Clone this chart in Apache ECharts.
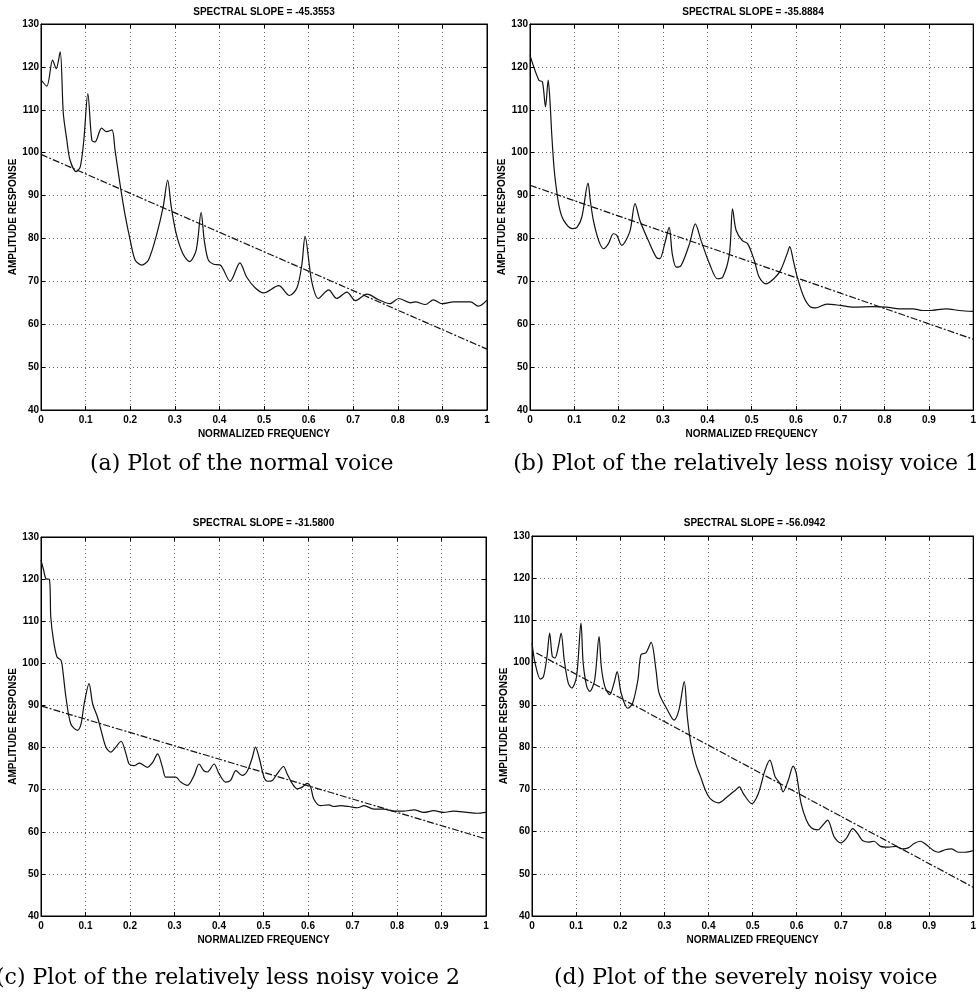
<!DOCTYPE html>
<html>
<head>
<meta charset="utf-8">
<script src="https://cdn.jsdelivr.net/npm/echarts@6/dist/echarts.min.js"></script>
<style>
html,body{margin:0;padding:0;background:#fff;}
#chart{width:979px;height:996px;}
</style>
</head>
<body>
<div id="chart"></div>
<script>
// ---- Data ----
const titles = ['SPECTRAL SLOPE = -45.3553', 'SPECTRAL SLOPE = -35.8884', 'SPECTRAL SLOPE = -31.5800', 'SPECTRAL SLOPE = -56.0942'];
const captions = ['(a) Plot of the normal voice', '(b) Plot of the relatively less noisy voice 1', '(c) Plot of the relatively less noisy voice 2', '(d) Plot of the severely noisy voice'];
const xTicks = ['0', '0.1', '0.2', '0.3', '0.4', '0.5', '0.6', '0.7', '0.8', '0.9', '1'];
const yTicks = [40, 50, 60, 70, 80, 90, 100, 110, 120, 130];

const freqA = [0,0.013,0.026,0.034,0.043,0.050,0.058,0.065,0.079,0.088,0.096,0.105,0.114,0.121,0.136,0.147,0.159,0.166,0.177,0.188,0.200,0.211,0.226,0.241,0.260,0.274,0.284,0.292,0.303,0.318,0.333,0.348,0.359,0.366,0.375,0.387,0.402,0.424,0.446,0.461,0.480,0.499,0.533,0.557,0.574,0.585,0.592,0.607,0.622,0.645,0.663,0.686,0.705,0.731,0.757,0.783,0.802,0.828,0.839,0.862,0.880,0.899,0.925,0.963,0.981,1.0];
const ampA  = [117,115.5,121.6,119.6,123.5,109.2,102.9,98.3,95.6,96.7,102.9,113.8,102.9,102.5,105.7,104.9,105.3,100.6,92.8,85.8,79.6,75.0,73.8,75.0,81.2,87.4,93.6,87.4,81.2,76.5,74.6,77.3,86.1,79.6,75.0,74.0,73.8,70.0,74.3,71.0,68.5,67.3,69.0,66.7,68.5,74.0,80.5,70.0,66.0,68.0,66.0,67.5,65.5,67.0,65.7,64.8,66.0,65.0,65.2,64.6,65.7,64.8,65.2,65.2,64.2,65.6];

const freqB = [0,0.020,0.028,0.035,0.041,0.045,0.049,0.054,0.058,0.066,0.076,0.095,0.106,0.117,0.131,0.136,0.143,0.155,0.166,0.177,0.188,0.196,0.207,0.214,0.226,0.237,0.248,0.267,0.285,0.293,0.304,0.314,0.321,0.330,0.341,0.360,0.373,0.386,0.405,0.423,0.435,0.450,0.457,0.465,0.479,0.491,0.506,0.517,0.532,0.550,0.565,0.580,0.586,0.594,0.603,0.618,0.633,0.644,0.670,0.700,0.730,0.774,0.804,0.834,0.864,0.886,0.901,0.939,0.969,1.0];
const ampB  = [122.7,116.9,116.5,110.7,116.9,112.2,104.4,96.7,92.8,87.3,84.2,82.3,82.6,85.0,92.9,88.9,84.2,79.5,77.6,78.8,81.1,80.7,78.4,79.1,81.9,88.1,84.2,79.5,75.6,75.3,78.8,82.6,76.4,73.3,73.7,78.8,83.4,79.5,74.1,70.6,71.0,76.4,86.9,81.9,79.5,78.8,74.9,71.0,69.4,70.6,72.5,76.4,78.1,74.9,71.0,66.3,64.0,63.8,64.7,64.4,64.0,64.1,64.0,63.6,63.6,63.2,63.2,63.6,63.2,63.0];

const freqC = [0,0.006,0.011,0.019,0.022,0.028,0.036,0.045,0.049,0.056,0.067,0.082,0.090,0.097,0.108,0.116,0.127,0.135,0.146,0.157,0.168,0.180,0.191,0.198,0.209,0.221,0.239,0.251,0.262,0.273,0.280,0.292,0.303,0.314,0.329,0.344,0.355,0.366,0.374,0.389,0.400,0.415,0.426,0.438,0.452,0.464,0.475,0.482,0.490,0.501,0.509,0.520,0.531,0.545,0.553,0.565,0.576,0.587,0.598,0.606,0.613,0.628,0.647,0.658,0.673,0.692,0.711,0.726,0.748,0.770,0.793,0.815,0.838,0.860,0.883,0.905,0.927,0.957,0.980,1.0];
const ampC  = [124.5,122.1,120.1,119.9,111.0,105.5,101.5,100.7,98.3,92.0,85.6,84.1,85.6,90.4,95.2,90.4,87.2,84.1,80.1,78.9,80.1,81.5,78.5,76.1,75.7,76.3,75.3,76.5,78.5,75.3,73.0,73.0,73.0,71.8,71.0,73.4,76.1,74.5,74.2,76.1,73.8,71.8,72.2,74.5,73.4,74.5,77.7,80.1,77.7,73.0,72.0,72.2,73.8,75.5,73.8,71.4,70.2,70.6,71.5,70.6,67.8,66.2,66.4,66.0,66.2,66.0,65.7,66.2,65.4,65.4,64.9,64.9,65.2,64.6,65.0,64.6,64.9,64.6,64.4,64.6];

const freqD = [0,0.007,0.019,0.026,0.034,0.040,0.046,0.052,0.060,0.066,0.073,0.082,0.090,0.101,0.111,0.116,0.124,0.131,0.142,0.152,0.157,0.165,0.176,0.186,0.193,0.202,0.217,0.228,0.240,0.247,0.258,0.270,0.281,0.288,0.307,0.322,0.333,0.345,0.352,0.360,0.371,0.382,0.393,0.404,0.423,0.442,0.461,0.470,0.479,0.498,0.513,0.528,0.539,0.551,0.562,0.569,0.581,0.592,0.599,0.610,0.622,0.633,0.648,0.659,0.670,0.685,0.700,0.712,0.727,0.738,0.749,0.764,0.775,0.790,0.809,0.824,0.839,0.854,0.865,0.880,0.891,0.910,0.921,0.936,0.951,0.966,0.981,1.0];
const ampD  = [104.7,99.9,96.1,96.7,101.5,107.0,101.5,101.1,103.9,107.0,100.7,95.2,94.0,96.7,109.4,99.9,94.4,93.2,95.9,106.2,99.1,94.4,92.4,95.2,97.9,92.8,89.2,90.4,95.9,101.9,102.3,104.8,98.3,92.8,88.8,86.4,88.8,95.5,87.2,80.9,76.1,73.0,69.8,67.8,66.8,68.2,69.8,70.6,69.0,66.6,69.0,74.5,76.9,73.0,71.4,69.4,72.2,75.5,73.8,66.6,62.7,60.9,60.4,61.5,62.7,58.7,57.3,58.3,60.7,59.5,57.9,57.5,57.7,56.5,56.3,56.5,55.9,56.2,57.1,57.7,57.1,55.5,55.1,55.7,55.9,55.1,55.1,55.5];

// regression (fitted) lines: [x, y] end points
const fitX = [[0, 1], [0, 1], [0, 1], [0.01, 1]];
const fitY = [[99.6, 54.2], [92.4, 56.5], [89.9, 58.3], [102.3, 46.8]];

const freqs = [freqA, freqB, freqC, freqD];
const amps = [ampA, ampB, ampC, ampD];

// ---- Layout ----
const grids = [
  {left: 41, top: 24, width: 446, height: 386},
  {left: 530, top: 24, width: 446, height: 386},
  {left: 41, top: 537, width: 445, height: 379},
  {left: 532, top: 536, width: 445, height: 380}
];
const titleY = [12, 12, 523, 523];
const captionPos = [
  {x: 90, y: 464, align: 'left'},
  {x: 979, y: 464, align: 'right'},
  {x: -4, y: 978, align: 'left'},
  {x: 554, y: 978, align: 'left'}
];

const sans = 'Liberation Sans, Arial, sans-serif';
const gridLine = {show: true, lineStyle: {color: '#666', type: [1, 3], width: 1}};

const option = {
  animation: false,
  backgroundColor: '#fff',
  grid: grids.map(g => Object.assign({show: true, borderColor: '#000', borderWidth: 1, containLabel: false}, g)),
  xAxis: [],
  yAxis: [],
  series: [],
  graphic: []
};

grids.forEach((g, i) => {
  option.xAxis.push({
    type: 'value', gridIndex: i, min: 0, max: 1, interval: 0.1,
    name: 'NORMALIZED FREQUENCY', nameLocation: 'middle', nameGap: 19,
    nameTextStyle: {fontFamily: sans, fontWeight: 'bold', fontSize: 10, color: '#000'},
    axisLine: {show: true, onZero: false, lineStyle: {color: '#000', width: 1}},
    axisTick: {show: true, inside: true, length: 4, lineStyle: {color: '#000'}},
    axisLabel: {margin: 5, fontFamily: sans, fontWeight: 'bold', fontSize: 10, color: '#000',
      formatter: v => xTicks[Math.round(v * 10)]},
    splitLine: gridLine
  });
  option.xAxis.push({
    type: 'value', gridIndex: i, min: 0, max: 1, interval: 0.1, position: 'top',
    axisLine: {show: true, onZero: false, lineStyle: {color: '#000'}},
    axisTick: {show: true, inside: true, length: 4, lineStyle: {color: '#000'}},
    axisLabel: {show: false}, splitLine: {show: false}
  });
  option.yAxis.push({
    type: 'value', gridIndex: i, min: yTicks[0], max: yTicks[yTicks.length - 1], interval: 10,
    name: 'AMPLITUDE RESPONSE', nameLocation: 'middle', nameGap: 18, nameRotate: 90,
    nameTextStyle: {fontFamily: sans, fontWeight: 'bold', fontSize: 10, color: '#000'},
    axisLine: {show: true, onZero: false, lineStyle: {color: '#000', width: 1}},
    axisTick: {show: true, inside: true, length: 4, lineStyle: {color: '#000'}},
    axisLabel: {margin: 2, fontFamily: sans, fontWeight: 'bold', fontSize: 10, color: '#000'},
    splitLine: gridLine
  });
  option.yAxis.push({
    type: 'value', gridIndex: i, min: 40, max: 130, interval: 10, position: 'right',
    axisLine: {show: true, onZero: false, lineStyle: {color: '#000'}},
    axisTick: {show: true, inside: true, length: 4, lineStyle: {color: '#000'}},
    axisLabel: {show: false}, splitLine: {show: false}
  });

  option.series.push({
    type: 'line', xAxisIndex: i * 2, yAxisIndex: i * 2,
    data: freqs[i].map((f, k) => [f, amps[i][k]]),
    showSymbol: false, smooth: 0.3,
    lineStyle: {color: '#111', width: 1.2}
  });
  option.series.push({
    type: 'line', xAxisIndex: i * 2, yAxisIndex: i * 2,
    data: fitX[i].map((f, k) => [f, fitY[i][k]]),
    showSymbol: false,
    lineStyle: {color: '#111', width: 1.2, type: [7, 2, 2, 2]}
  });

  option.graphic.push({
    type: 'text', x: g.left + g.width / 2, y: titleY[i],
    style: {text: titles[i], font: 'bold 10px ' + sans, fill: '#000', textAlign: 'center', textVerticalAlign: 'middle'}
  });
  option.graphic.push({
    type: 'text', x: captionPos[i].x, y: captionPos[i].y,
    style: {text: captions[i], font: '22px "DejaVu Serif", serif', fill: '#000', textAlign: captionPos[i].align, textVerticalAlign: 'middle'}
  });
});

const chart = echarts.init(document.getElementById('chart'), null, {renderer: 'canvas'});
chart.setOption(option);
</script>
</body>
</html>
